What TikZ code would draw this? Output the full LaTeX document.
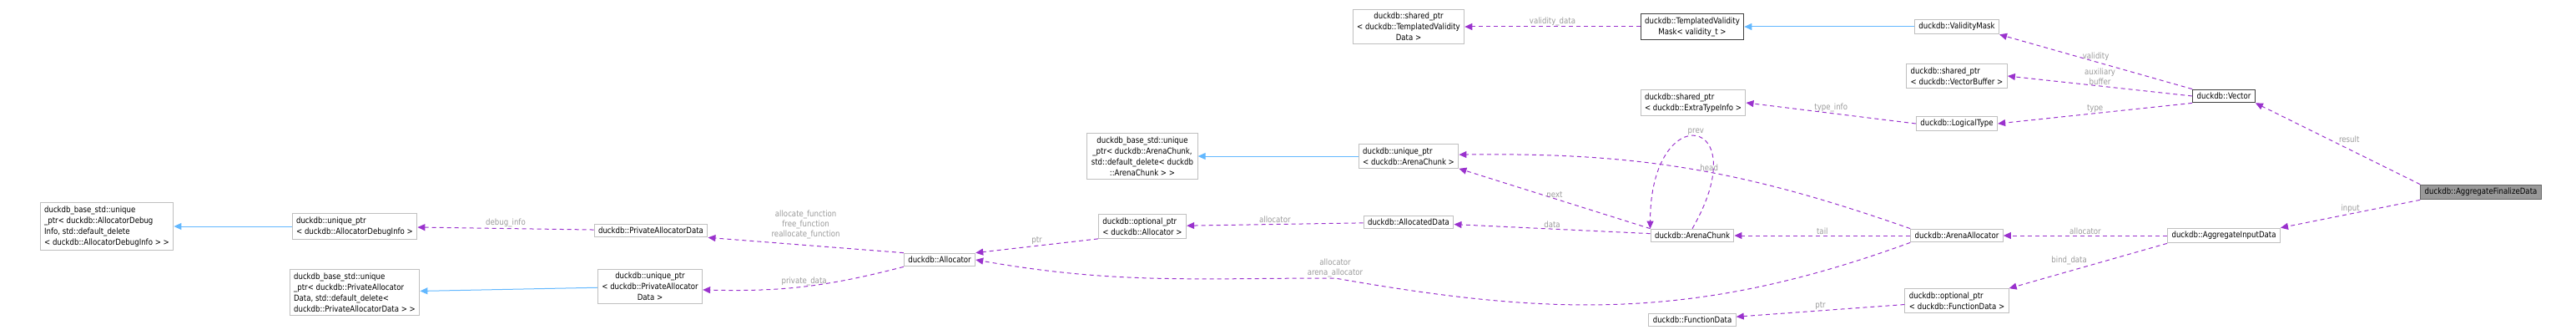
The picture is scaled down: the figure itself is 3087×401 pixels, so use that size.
\documentclass[tikz,border=0pt]{standalone}
\usepackage{fontspec}
\setmainfont{DejaVu Sans}[FakeStretch=0.86]
\usetikzlibrary{positioning,arrows.meta}
\definecolor{edgepurple}{RGB}{154,50,205}
\definecolor{edgeblue}{RGB}{99,184,255}
\definecolor{lblgray}{RGB}{154,154,154}
\definecolor{boxgray}{RGB}{191,191,191}

\begin{document}
\begin{tikzpicture}[x=1pt,y=-1pt,
	cls/.style={draw=boxgray,line width=1pt,fill=white,font=\fontsize{10}{13}\selectfont,align=left,inner xsep=5pt,inner ysep=4pt},
	dark/.style={cls,draw=black!75},
	uses/.style={draw=edgepurple,line width=1pt,dashed,dash pattern=on 5pt off 4pt,-{Triangle[length=9pt,width=8pt,fill=edgepurple]}},
	isa/.style={draw=edgeblue,line width=1pt,-{Triangle[length=9pt,width=8pt,fill=edgeblue]}},
	lbl/.style={font=\fontsize{10}{12}\selectfont,text=lblgray,align=center,inner sep=1pt}]
	\useasboundingbox (0,0) rectangle (3087,401);
%	\draw[lightgray] (0,0) grid[step=100] (3087,401);
	% left column
	\node[cls] (dbgbase) at (128,271) {duckdb\_base\_std::unique\\\_ptr< duckdb::AllocatorDebug\\Info, std::default\_delete\\< duckdb::AllocatorDebugInfo > >};
	\node[cls] (dbgptr) at (425,271) {duckdb::unique\_ptr\\< duckdb::AllocatorDebugInfo >};
	\node[cls] (pribase) at (425,350) {duckdb\_base\_std::unique\\\_ptr< duckdb::PrivateAllocator\\Data, std::default\_delete<\\ duckdb::PrivateAllocatorData > >};
	\node[cls] (pridata) at (780,276) {duckdb::PrivateAllocatorData};
	\node[cls,align=center] (priptr) at (779,343) {duckdb::unique\_ptr\\< duckdb::PrivateAllocator\\Data >};
	\node[cls] (alloc) at (1126,311) {duckdb::Allocator};
	\node[cls,align=center] (chunkbase) at (1369,187) {duckdb\_base\_std::unique\\\_ptr< duckdb::ArenaChunk,\\ std::default\_delete< duckdb\\::ArenaChunk > >};
	\node[cls] (allocptr) at (1369,271) {duckdb::optional\_ptr\\< duckdb::Allocator >};
	% middle
	\node[cls,align=center] (valdata) at (1688,32) {duckdb::shared\_ptr\\< duckdb::TemplatedValidity\\Data >};
	\node[cls] (chunkptr) at (1688,187) {duckdb::unique\_ptr\\< duckdb::ArenaChunk >};
	\node[cls] (allocated) at (1688,266) {duckdb::AllocatedData};
	\node[dark,align=center] (tvmask) at (2028,32) {duckdb::TemplatedValidity\\Mask< validity\_t >};
	\node[cls] (typeinfo) at (2029,123) {duckdb::shared\_ptr\\< duckdb::ExtraTypeInfo >};
	\node[cls] (chunk) at (2028,282) {duckdb::ArenaChunk};
	\node[cls] (funcdata) at (2028,383) {duckdb::FunctionData};
	% right
	\node[cls] (valmask) at (2345,32) {duckdb::ValidityMask};
	\node[cls] (vecbuf) at (2345,91) {duckdb::shared\_ptr\\< duckdb::VectorBuffer >};
	\node[cls] (ltype) at (2345,148) {duckdb::LogicalType};
	\node[cls] (arena) at (2345,282) {duckdb::ArenaAllocator};
	\node[cls] (funcptr) at (2345,360) {duckdb::optional\_ptr\\< duckdb::FunctionData >};
	\node[dark] (vector) at (2665,115) {duckdb::Vector};
	\node[cls] (input) at (2665,282) {duckdb::AggregateInputData};
	\node[cls,fill=black!40,draw=black!60] (finalize) at (2973,230) {duckdb::AggregateFinalizeData};
	% inheritance
	\draw[isa] (dbgptr) -- (dbgbase);
	\draw[isa] (priptr) -- (pribase);
	\draw[isa] (chunkptr) -- (chunkbase);
	\draw[isa] (valmask) -- (tvmask);
	% members
	\draw[uses] (pridata) -- node[lbl,above] {debug\_info} (dbgptr);
	\draw[uses] (alloc.north west) -- node[lbl,above=6pt] {allocate\_function\\free\_function\\reallocate\_function} (pridata.south east);
	\draw[uses] (alloc.south west) to[bend left=8] node[lbl,above] {private\_data} (priptr);
	\draw[uses] (allocptr.south west) -- node[lbl,above] {ptr} (alloc.north east);
	\draw[uses] (allocated) -- node[lbl,above] {allocator} (allocptr);
	\draw[uses] (chunk) -- node[lbl,above] {data} (allocated);
	\draw[uses] (chunk.north west) -- node[lbl,above] {next} (chunkptr.south east);
	\draw[uses] (chunk.north) to[out=60,in=90,looseness=8] node[lbl,above] {prev} (chunk.north west);
	\draw[uses] (arena.north west) to[bend right=10] node[lbl,above,pos=.45] {head} (chunkptr);
	\draw[uses] (arena) -- node[lbl,above] {tail} (chunk);
	\draw[uses] (arena.south west) to[out=200,in=-10] (1600,333) node[lbl,above] {allocator\\arena\_allocator} to[out=180,in=-10] (alloc.east);
	\draw[uses] (input) -- node[lbl,above] {allocator} (arena);
	\draw[uses] (input.south west) -- node[lbl,above left] {bind\_data} (funcptr.north east);
	\draw[uses] (funcptr) -- node[lbl,above] {ptr} (funcdata);
	\draw[uses] (finalize.south west) -- node[lbl,above] {input} (input.north east);
	\draw[uses] (finalize.north west) -- node[lbl,above right] {result} (vector.south east);
	\draw[uses] (vector.north west) -- node[lbl,above] {validity} (valmask.south east);
	\draw[uses] (vector.west) -- node[lbl,above] {auxiliary\\buffer} (vecbuf.east);
	\draw[uses] (vector.south west) -- node[lbl,above] {type} (ltype.east);
	\draw[uses] (ltype.west) -- node[lbl,above] {type\_info} (typeinfo.east);
	\draw[uses] (tvmask) -- node[lbl,above] {validity\_data} (valdata);
\end{tikzpicture}
\end{document}
